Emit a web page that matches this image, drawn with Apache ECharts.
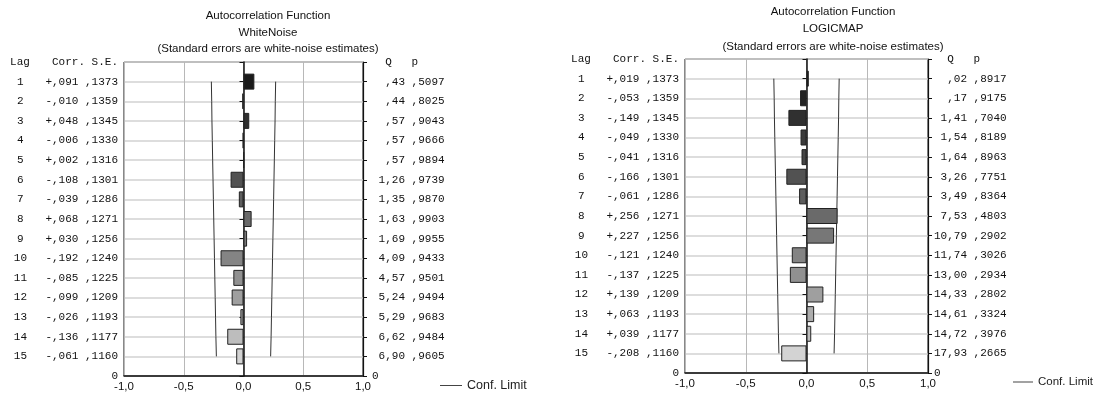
<!DOCTYPE html>
<html>
<head>
<meta charset="utf-8">
<script src="https://cdn.jsdelivr.net/npm/echarts@6/dist/echarts.min.js"></script>
<style>
  html, body { margin: 0; padding: 0; background: #fff; }
  #chart { width: 1093px; height: 396px; }
</style>
</head>
<body>
<div id="chart"></div>
<script>
// lags 1..15
const lags = [1, 2, 3, 4, 5, 6, 7, 8, 9, 10, 11, 12, 13, 14, 15];
const stdErr = [0.1373, 0.1359, 0.1345, 0.1330, 0.1316, 0.1301, 0.1286, 0.1271, 0.1256, 0.1240, 0.1225, 0.1209, 0.1193, 0.1177, 0.1160];
// conf. limit
const confLimit = [0.269, 0.266, 0.264, 0.261, 0.258, 0.255, 0.252, 0.249, 0.246, 0.243, 0.240, 0.237, 0.234, 0.231, 0.227];
const xTicks = [-1, -0.5, 0, 0.5, 1];

// WhiteNoise
const corrWN = [0.091, -0.010, 0.048, -0.006, 0.002, -0.108, -0.039, 0.068, 0.030, -0.192, -0.085, -0.099, -0.026, -0.136, -0.061];
const qWN = [0.43, 0.44, 0.57, 0.57, 0.57, 1.26, 1.35, 1.63, 1.69, 4.09, 4.57, 5.24, 5.29, 6.62, 6.90];
const pWN = [0.5097, 0.8025, 0.9043, 0.9666, 0.9894, 0.9739, 0.9870, 0.9903, 0.9955, 0.9433, 0.9501, 0.9494, 0.9683, 0.9484, 0.9605];

// LOGICMAP
const corrLM = [0.019, -0.053, -0.149, -0.049, -0.041, -0.166, -0.061, 0.256, 0.227, -0.121, -0.137, 0.139, 0.063, 0.039, -0.208];
const qLM = [0.02, 0.17, 1.41, 1.54, 1.64, 3.26, 3.49, 7.53, 10.79, 11.74, 13.00, 14.33, 14.61, 14.72, 17.93];
const pLM = [0.8917, 0.9175, 0.7040, 0.8189, 0.8963, 0.7751, 0.8364, 0.4803, 0.2902, 0.3026, 0.2934, 0.2802, 0.3324, 0.3976, 0.2665];

const barGrays = ['#1a1a1a', '#242424', '#303030', '#3b3b3b', '#464646', '#525252', '#5e5e5e', '#6a6a6a', '#777777', '#848484', '#919191', '#9f9f9f', '#adadad', '#bdbdbd', '#d3d3d3'];

const MONO = '"Liberation Mono", "DejaVu Sans Mono", monospace';
const SANS = '"Liberation Sans", Arial, sans-serif';

// german style numbers: ,091  1,26
function num(v, d) {
  return Math.abs(v).toFixed(d).replace('.', ',').replace(/^0,/, ',');
}
function pad(s, n) {
  while (s.length < n) s = ' ' + s;
  return s;
}

const rows = ['hdr'].concat(lags.map(String), ['end']);

function leftLabels(corr) {
  return function (val, idx) {
    if (idx === 0) return '{lagH|Lag}{v|Corr. S.E.}';
    if (idx === rows.length - 1) return '{v|0}';
    const c = (corr[idx - 1] < 0 ? '-' : '+') + num(corr[idx - 1], 3);
    return '{lag|' + lags[idx - 1] + '}{v|' + c + ' ' + num(stdErr[idx - 1], 4) + '}';
  };
}
function rightLabels(q, p) {
  return function (val, idx) {
    if (idx === 0) return '  Q   p';
    if (idx === rows.length - 1) return '0';
    return pad(num(q[idx - 1], 2), 5) + ' ' + num(p[idx - 1], 4);
  };
}

const monoRich = {
  lag: { fontFamily: MONO, fontSize: 11, color: '#111', width: 50, align: 'center' },
  lagH: { fontFamily: MONO, fontSize: 11, color: '#111', width: 64, align: 'center' },
  v: { fontFamily: MONO, fontSize: 11, color: '#111' }
};

function yAxes(gridIndex, corr, q, p, rightMargin) {
  return [
    {
      type: 'category', gridIndex: gridIndex, data: rows, inverse: true, boundaryGap: false,
      position: 'left',
      axisLine: { show: true, lineStyle: { color: '#111', width: 1.5 } },
      axisTick: { show: true, length: 4, interval: 0, lineStyle: { color: '#111' } },
      axisLabel: { interval: 0, margin: 6, formatter: leftLabels(corr), rich: monoRich },
      splitLine: { show: true, interval: 0, lineStyle: { color: '#d2d2d2', width: 1.5 } }
    },
    {
      type: 'category', gridIndex: gridIndex, data: rows, inverse: true, boundaryGap: false,
      position: 'right',
      axisLine: { show: true, lineStyle: { color: '#111', width: 1.2 } },
      axisTick: { show: true, length: 4, interval: 0, lineStyle: { color: '#111' } },
      axisLabel: { interval: 0, margin: rightMargin, formatter: rightLabels(q, p),
        fontFamily: MONO, fontSize: 11, color: '#111' },
      splitLine: { show: false }
    }
  ];
}

function xAxis(gridIndex) {
  return {
    type: 'value', gridIndex: gridIndex, min: xTicks[0], max: xTicks[xTicks.length - 1], interval: 0.5,
    axisLine: { show: true, lineStyle: { color: '#111', width: 1.5 } },
    axisTick: { show: false },
    axisLabel: { margin: 5, fontFamily: SANS, fontSize: 11.5, color: '#111',
      formatter: function (v) { return (v < 0 ? '-' : '') + Math.abs(v).toFixed(1).replace('.', ','); } },
    splitLine: { show: true, lineStyle: { color: '#b8b8b8', width: 1 } }
  };
}

function barData(corr) {
  return ['-'].concat(corr.map(function (c, i) {
    return { value: c, itemStyle: { color: barGrays[i] } };
  }), ['-']);
}
function limitLine(sign, xi, yi) {
  return {
    name: 'Conf. Limit', type: 'line', xAxisIndex: xi, yAxisIndex: yi,
    symbol: 'none', silent: true, z: 1, color: '#444',
    lineStyle: { color: '#333', width: 1 },
    data: confLimit.map(function (c, i) { return [sign * c, i + 1]; })
  };
}

const titleStyle = { fontFamily: SANS, fontSize: 11.5, fontWeight: 'normal', color: '#111' };
const legendBase = {
  data: ['Conf. Limit'], padding: 0, icon: 'rect', itemHeight: 1,
  itemStyle: { color: '#444' }
};

const chart = echarts.init(document.getElementById('chart'));
chart.setOption({
  backgroundColor: '#fff',
  animation: false,
  title: [
    { text: 'Autocorrelation Function\nWhiteNoise\n(Standard errors are white-noise estimates)',
      left: 263, top: 3, textAlign: 'center',
      textStyle: Object.assign({ lineHeight: 16.5 }, titleStyle) },
    { text: 'Autocorrelation Function\nLOGICMAP\n(Standard errors are white-noise estimates)',
      left: 828, top: -2, textAlign: 'center',
      textStyle: Object.assign({ lineHeight: 17.5 }, titleStyle) }
  ],
  legend: [
    Object.assign({ left: 440, top: 379, itemWidth: 22,
      textStyle: { fontFamily: SANS, fontSize: 12.5, color: '#222' } }, legendBase),
    Object.assign({ left: 1013, top: 376, itemWidth: 20,
      textStyle: { fontFamily: SANS, fontSize: 11.5, color: '#222' } }, legendBase)
  ],
  grid: [
    { left: 124, width: 239, top: 62, height: 314, show: true, borderColor: '#111', borderWidth: 1 },
    { left: 685, width: 243, top: 59, height: 314, show: true, borderColor: '#111', borderWidth: 1 }
  ],
  xAxis: [xAxis(0), xAxis(1)],
  yAxis: yAxes(0, corrWN, qWN, pWN, 9).concat(yAxes(1, corrLM, qLM, pLM, 6)),
  series: [
    { name: 'WhiteNoise', type: 'bar', xAxisIndex: 0, yAxisIndex: 0, barWidth: 16, z: 3,
      itemStyle: { borderColor: '#222', borderWidth: 1 }, data: barData(corrWN) },
    limitLine(-1, 0, 0), limitLine(1, 0, 0),
    { name: 'LOGICMAP', type: 'bar', xAxisIndex: 1, yAxisIndex: 2, barWidth: 16, z: 3,
      itemStyle: { borderColor: '#222', borderWidth: 1 }, data: barData(corrLM) },
    limitLine(-1, 1, 2), limitLine(1, 1, 2)
  ]
});
</script>
</body>
</html>
